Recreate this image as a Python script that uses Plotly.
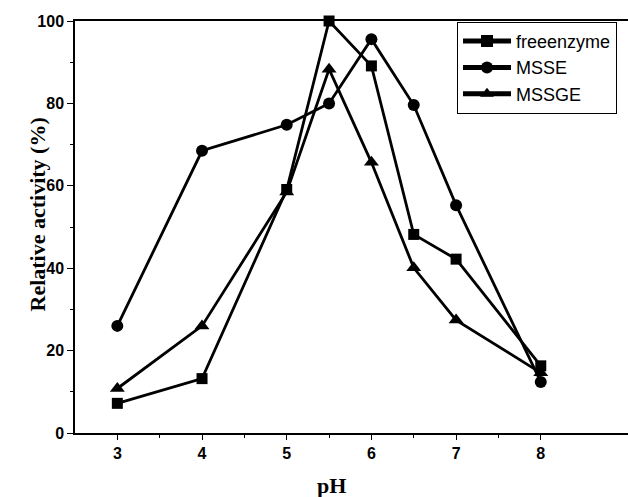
import plotly.graph_objects as go

ph = [3, 4, 5, 5.5, 6, 6.5, 7, 8]
free_enzyme = [7.2, 13.2, 59.1, 100, 89.1, 48.2, 42.2, 16.3]
msse = [26, 68.5, 74.8, 80, 95.6, 79.6, 55.3, 12.4]
mssge = [10.8, 26, 58.5, 88.3, 65.7, 40.1, 27.4, 14.6]

names = ["freeenzyme", "MSSE", "MSSGE"]
symbols = ["square", "circle", "triangle-up"]
sizes = [11, 12, 13]
series = [free_enzyme, msse, mssge]

fig = go.Figure()
for nm, sym, sz, ys in zip(names, symbols, sizes, series):
    fig.add_trace(go.Scatter(
        x=ph, y=ys, name=nm, mode="lines+markers",
        line=dict(color="black", width=2.8),
        marker=dict(symbol=sym, size=sz, color="black"),
        cliponaxis=False,
    ))

tickfont = dict(family="Liberation Sans, Arial, sans-serif", size=16, color="black", weight="bold")
plot_h = 497 - 21 - 64
plot_w = 628 - 75
fig.update_layout(
    width=628, height=497,
    margin=dict(l=75, r=0, t=21, b=64),
    paper_bgcolor="white", plot_bgcolor="white",
    showlegend=True,
    legend=dict(
        x=(457 - 75) / plot_w, y=0.998, xanchor="left", yanchor="top",
        bgcolor="white", bordercolor="black", borderwidth=1,
        font=dict(family="Liberation Sans, Arial, sans-serif", size=18, color="black"),
        tracegroupgap=0, itemwidth=48, itemsizing="constant",
        entrywidth=112, entrywidthmode="pixels",
    ),
    xaxis=dict(
        range=[2.5, 9.03], tickvals=[3, 4, 5, 6, 7, 8],
        ticks="outside", ticklen=5, tickwidth=1, tickcolor="black",
        minor=dict(tickvals=[3.5, 4.5, 5.5, 6.5, 7.5], ticks="outside", ticklen=3, tickcolor="black"),
        showline=True, linecolor="black", linewidth=1.5, mirror=True,
        showgrid=False, zeroline=False, tickfont=tickfont,
    ),
    yaxis=dict(
        range=[0, 100], tickvals=[0, 20, 40, 60, 80, 100],
        ticks="outside", ticklen=6, tickwidth=1, tickcolor="black",
        minor=dict(tickvals=[10, 30, 50, 70, 90], ticks="outside", ticklen=3, tickcolor="black"),
        showline=True, linecolor="black", linewidth=1.5,
        showgrid=False, zeroline=False, tickfont=tickfont,
    ),
    annotations=[
        dict(text="<b>pH</b>", x=5.53, xref="x", y=(433 - 485) / plot_h, yref="paper",
             yanchor="middle", showarrow=False,
             font=dict(family="Liberation Serif, Times New Roman, serif", size=22, color="black")),
        dict(text="<b>Relative activity (%)</b>", xref="paper", yref="paper",
             x=(22 - 75) / plot_w, y=(433 - 215) / plot_h, showarrow=False, textangle=-90,
             font=dict(family="Liberation Serif, Times New Roman, serif", size=22, color="black")),
    ],
)
fig.write_html("out.html")
